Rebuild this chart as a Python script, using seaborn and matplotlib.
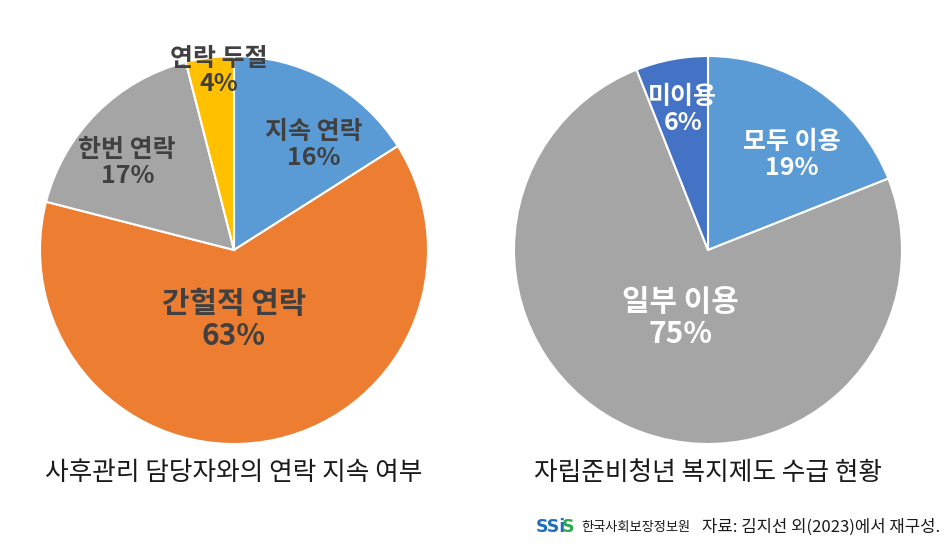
import matplotlib
matplotlib.use("Agg")
import matplotlib.pyplot as plt
import seaborn as sns
import numpy as np

sns.set_style("white")
plt.rcParams['font.family'] = ['Noto Sans CJK KR', 'DejaVu Sans']

# ---- data ----
left_labels = ["지속 연락", "간헐적 연락", "한번 연락", "연락 두절"]
left_values = [16, 63, 17, 4]
left_title = "사후관리 담당자와의 연락 지속 여부"

right_labels = ["모두 이용", "일부 이용", "미이용"]
right_values = [19, 75, 6]
right_title = "자립준비청년 복지제도 수급 현황"

source_org = "한국사회보장정보원"
source_text = "자료: 김지선 외(2023)에서 재구성."

# ---- styles / layout ----
left_colors = ["#5B9BD5", "#ED7D31", "#A5A5A5", "#FFC000"]
right_colors = ["#5B9BD5", "#A5A5A5", "#4472C4"]
left_pos = [(0.41, 0.54), (0.0, -0.36), (-0.55, 0.45), (-0.08, 0.92)]
right_pos = [(0.43, 0.49), (-0.14, -0.35), (-0.13, 0.72)]
left_sizes = [18, 21.5, 18, 18]
right_sizes = [18, 21.5, 18]

W, H = 948, 549
fig = plt.figure(figsize=(W / 100, H / 100), dpi=100)

R = 194


def pie_axes(cx, cy):
    return fig.add_axes([(cx - R) / W, 1 - (cy + R) / H, 2 * R / W, 2 * R / H])


def draw(ax, vals, cols, labels, pos, sizes, tcolor):
    ax.pie(vals, colors=cols, startangle=90, counterclock=False,
           wedgeprops=dict(edgecolor="white", linewidth=1.5), radius=1)
    ax.set_xlim(-1, 1)
    ax.set_ylim(-1, 1)
    ax.set_aspect("equal")
    ax.axis("off")
    for lab, v, (x, y), s in zip(labels, vals, pos, sizes):
        ax.text(x, y, f"{lab}\n{v}%", ha="center", va="center",
                fontsize=s, fontweight="bold", color=tcolor,
                linespacing=1.1, clip_on=False)


axL = pie_axes(234, 250)
draw(axL, left_values, left_colors, left_labels, left_pos, left_sizes, "#404040")
axR = pie_axes(708, 250)
draw(axR, right_values, right_colors, right_labels, right_pos, right_sizes, "white")

fig.text(234 / W, 1 - 473 / H, left_title, ha="center", va="center",
         fontsize=18.5, color="#1a1a1a")
fig.text(708 / W, 1 - 473 / H, right_title, ha="center", va="center",
         fontsize=18.5, color="#1a1a1a")

# footer
t1 = fig.text(536 / W, 1 - 527 / H, "SSi", ha="left", va="center", fontsize=12.5,
              fontweight="bold", color="#1F6FB8", family=['DejaVu Sans'])
axL.annotate("S", xy=(1.0, 0.5), xycoords=t1, xytext=(-3.5, 0),
             textcoords="offset points", ha="left", va="center",
             fontsize=12.5, fontweight="bold", color="#2DA84A",
             family=['DejaVu Sans'], annotation_clip=False)
fig.text(581 / W, 1 - 527 / H, source_org, ha="left", va="center", fontsize=9.5,
         color="#1a1a1a")
fig.text(940 / W, 1 - 527 / H, source_text, ha="right", va="center", fontsize=12,
         color="#1a1a1a")

fig.savefig("out.png", dpi=100)
